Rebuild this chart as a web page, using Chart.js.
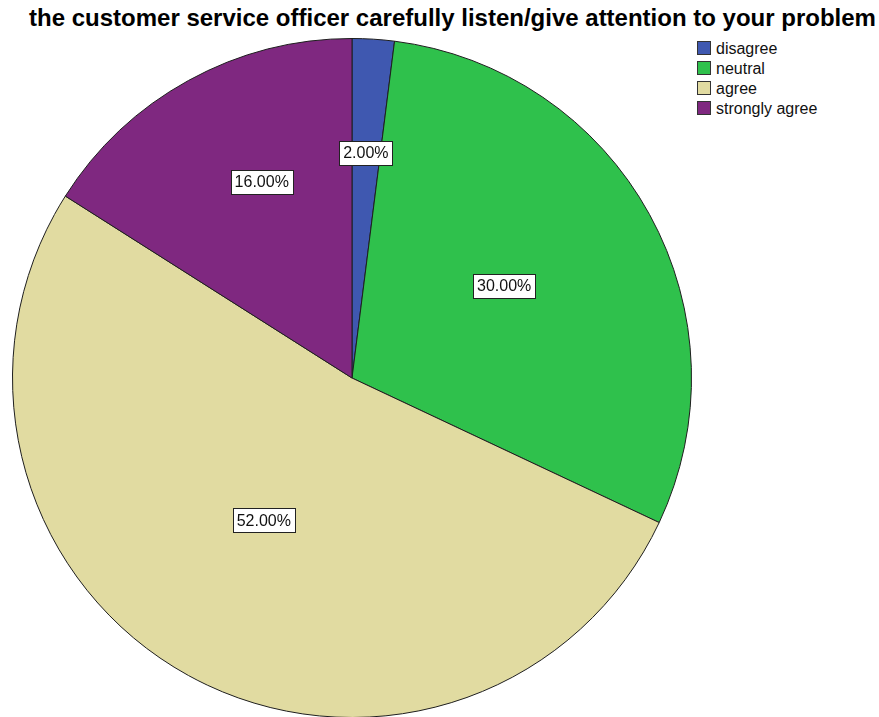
<!DOCTYPE html>
<html>
<head>
<meta charset="utf-8">
<script src="https://cdn.jsdelivr.net/npm/chart.js@4"></script>
<style>
    html, body { margin: 0; padding: 0; width: 879px; height: 717px; overflow: hidden; background: #fff; }
    #title {
        position: absolute; left: 0; top: 4px; width: 879px; padding-left: 26px; box-sizing: border-box;
        text-align: center; font: bold 24px "Liberation Sans", Arial, sans-serif; color: #000; white-space: nowrap;
    }
    #pieWrap { position: absolute; left: 12px; top: 38px; width: 680px; height: 680px; }
    #legend { position: absolute; left: 697px; top: 40px; font: 16px "Liberation Sans", Arial, sans-serif; color: #111; }
    #legend div { height: 20px; line-height: 18px; white-space: nowrap; }
    #legend span.sw {
        display: inline-block; width: 12px; height: 12px; border: 1px solid #333;
        vertical-align: -1px; margin-right: 5px;
    }
</style>
</head>
<body>
<div id="title">the customer service officer carefully listen/give attention to your problem</div>
<div id="pieWrap"><canvas id="pie"></canvas></div>
<div id="legend"></div>
<script>
const categories = ['disagree', 'neutral', 'agree', 'strongly agree'];
const percents = [2, 30, 52, 16];
const colors = ['#3f58b0', '#2fc14c', '#e1dba1', '#7f2880'];
// where each percentage box sits: fraction of radius, and fraction across the slice
const labelRadius = [0.665, 0.524, 0.493, 0.636];
const labelSpan = [0.49, 0.478, 0.516, 0.571];

document.addEventListener('DOMContentLoaded', function () {
    const legend = document.getElementById('legend');
    categories.forEach((name, i) => {
        const row = document.createElement('div');
        row.innerHTML = '<span class="sw" style="background:' + colors[i] + '"></span>' + name;
        legend.appendChild(row);
    });

    // white boxed percentage labels inside each slice
    const boxLabels = {
        id: 'boxLabels',
        afterDatasetsDraw(chart) {
            const ctx = chart.ctx;
            const meta = chart.getDatasetMeta(0);
            ctx.save();
            ctx.font = '16px "Liberation Sans", Arial, sans-serif';
            ctx.textAlign = 'center';
            ctx.textBaseline = 'middle';
            meta.data.forEach((arc, i) => {
                const p = arc.getProps(['x', 'y', 'startAngle', 'endAngle', 'outerRadius']);
                const ang = p.startAngle + (p.endAngle - p.startAngle) * labelSpan[i];
                const r = p.outerRadius * labelRadius[i];
                const x = p.x + Math.cos(ang) * r;
                const y = p.y + Math.sin(ang) * r;
                const text = percents[i].toFixed(2) + '%';
                const w = Math.round(ctx.measureText(text).width + 8);
                const h = 24;
                const bx = Math.round(x - w / 2) + 0.5;
                const by = Math.round(y - h / 2) + 0.5;
                ctx.fillStyle = '#fff';
                ctx.fillRect(bx, by, w, h);
                ctx.strokeStyle = '#222';
                ctx.lineWidth = 1;
                ctx.strokeRect(bx, by, w, h);
                ctx.fillStyle = '#111';
                ctx.fillText(text, x, y + 1);
            });
            ctx.restore();
        }
    };

    new Chart(document.getElementById('pie'), {
        type: 'pie',
        data: {
            labels: categories,
            datasets: [{
                data: percents,
                backgroundColor: colors,
                borderColor: '#1e1e1e',
                borderWidth: 1,
                hoverOffset: 0
            }]
        },
        options: {
            responsive: true,
            maintainAspectRatio: false,
            animation: false,
            events: [],
            layout: { padding: 0 },
            plugins: {
                legend: { display: false },
                tooltip: { enabled: false }
            }
        },
        plugins: [boxLabels]
    });
});
</script>
</body>
</html>
